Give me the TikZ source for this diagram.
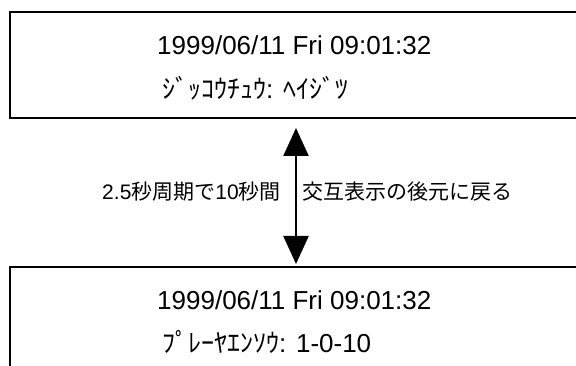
\documentclass[tikz,border=0pt]{standalone}
\usepackage{fontspec}
\setmainfont{Liberation Sans}
\newfontfamily\jp{Noto Sans CJK JP}
\usetikzlibrary{arrows.meta}
\tikzset{
  panel/.style={draw=black, line width=2pt, fill=none, minimum width=600pt, minimum height=106pt, anchor=north west, inner sep=0pt},
  maintext/.style={font=\fontsize{26}{30}\selectfont, inner sep=0pt},
  sidetext/.style={font=\fontsize{21}{25}\selectfont, inner sep=0pt},
  dblarrow/.style={line width=2.3pt, {Triangle[width=25pt,length=28pt]}-{Triangle[width=25pt,length=28pt]}}
}
\begin{document}
\begin{tikzpicture}[x=1pt,y=-1pt]
\useasboundingbox (0,0) rectangle (576,366);
\clip (0,0) rectangle (576,366);
\node[panel] (top) at (9,11) {};
\node[panel] (bot) at (9,266) {};
\node[maintext, anchor=west] (t1) at (157,45) {1999/06/11 Fri 09:01:32};
\node[maintext, anchor=west] (t2) at (162,88) {{\jp ｼﾞｯｺｳﾁｭｳ}: {\jp ﾍｲｼﾞﾂ}};
\node[maintext, anchor=west] (b1) at (157,300) {1999/06/11 Fri 09:01:32};
\node[maintext, anchor=west] (b2) at (162,342) {{\jp ﾌﾟﾚｰﾔｴﾝｿｳ}: 1-0-10};
\coordinate (a1) at (296,128);
\coordinate (a2) at (296,264);
\draw[dblarrow] (a1) -- (a2);
\node[sidetext, anchor=east] (lab1) at (281,192) {2.5{\jp 秒周期で}10{\jp 秒間}};
\node[sidetext, anchor=west] (lab2) at (302,192) {\jp 交互表示の後元に戻る};
\end{tikzpicture}
\end{document}
